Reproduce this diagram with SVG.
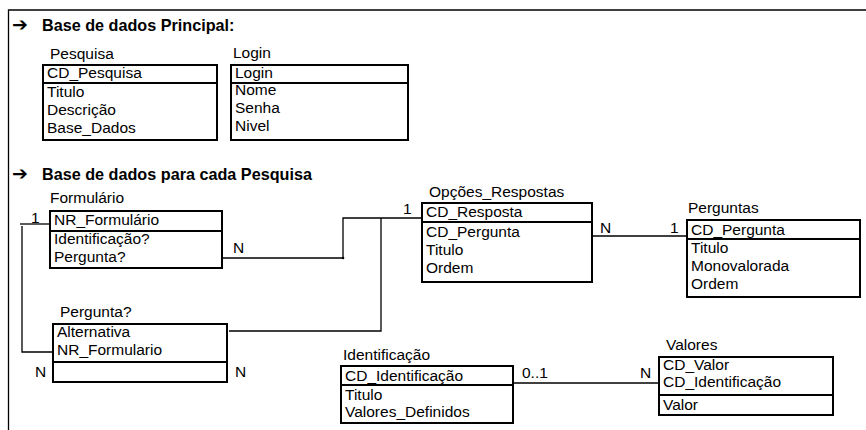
<svg xmlns="http://www.w3.org/2000/svg" width="866" height="430" viewBox="0 0 866 430">
<style>
text{font-family:"Liberation Sans",Arial,sans-serif;font-size:15.5px;fill:#000}
.h{font-weight:bold;font-size:16.2px}
.arr{font-family:"DejaVu Sans",sans-serif;font-size:19px;font-weight:bold}
.box{fill:#fff;stroke:#000;stroke-width:2}
.c{fill:none;stroke:#000;stroke-width:1.3}
</style>
<rect width="866" height="430" fill="#fff"/>
<path d="M8.5 430 V10 H866" fill="none" stroke="#000" stroke-width="1.3"/>
<text class="arr" x="12" y="31">➔</text>
<text class="h" x="42" y="31">Base de dados Principal:</text>
<text class="arr" x="12" y="180">➔</text>
<text class="h" x="42" y="180">Base de dados para cada Pesquisa</text>

<g id="pesquisa">
<text x="50" y="59">Pesquisa</text>
<rect class="box" x="43" y="65" width="174" height="18"/>
<rect class="box" x="43" y="83" width="174" height="57"/>
<text x="47" y="78">CD_Pesquisa</text>
<text x="47" y="97">Titulo</text>
<text x="47" y="115">Descrição</text>
<text x="47" y="133">Base_Dados</text>
</g>

<g id="login">
<text x="233" y="58">Login</text>
<rect class="box" x="231" y="65" width="177" height="18"/>
<rect class="box" x="231" y="83" width="177" height="57"/>
<text x="235" y="78">Login</text>
<text x="235" y="95">Nome</text>
<text x="235" y="113">Senha</text>
<text x="235" y="131">Nivel</text>
</g>

<g id="formulario">
<text x="50" y="203">Formulário</text>
<rect class="box" x="50" y="211" width="172" height="20"/>
<rect class="box" x="50" y="231" width="172" height="37"/>
<text x="54" y="225">NR_Formulário</text>
<text x="54" y="244">Identificação?</text>
<text x="54" y="262">Pergunta?</text>
</g>

<g id="opcoes_respostas">
<text x="429" y="197">Opções_Respostas</text>
<rect class="box" x="422" y="203" width="170" height="19"/>
<rect class="box" x="422" y="222" width="170" height="60"/>
<text x="426" y="217">CD_Resposta</text>
<text x="426" y="237">CD_Pergunta</text>
<text x="426" y="255">Titulo</text>
<text x="426" y="273">Ordem</text>
</g>

<g id="perguntas">
<text x="688" y="213">Perguntas</text>
<rect class="box" x="687" y="220" width="173" height="19"/>
<rect class="box" x="687" y="239" width="173" height="58"/>
<text x="691" y="235">CD_Pergunta</text>
<text x="691" y="253">Titulo</text>
<text x="691" y="271">Monovalorada</text>
<text x="691" y="289">Ordem</text>
</g>

<g id="pergunta_q">
<text x="60" y="317">Pergunta?</text>
<rect class="box" x="53" y="324" width="174" height="38"/>
<rect class="box" x="53" y="362" width="174" height="20"/>
<text x="57" y="337">Alternativa</text>
<text x="57" y="355">NR_Formulario</text>
</g>

<g id="identificacao">
<text x="343" y="360">Identificação</text>
<rect class="box" x="341" y="366" width="172" height="19"/>
<rect class="box" x="341" y="385" width="172" height="38"/>
<text x="345" y="381">CD_Identificação</text>
<text x="345" y="400">Titulo</text>
<text x="345" y="417">Valores_Definidos</text>
</g>

<g id="valores">
<text x="666" y="350">Valores</text>
<rect class="box" x="659" y="357" width="174" height="38"/>
<rect class="box" x="659" y="395" width="174" height="20"/>
<text x="663" y="370">CD_Valor</text>
<text x="663" y="387">CD_Identificação</text>
<text x="663" y="410">Valor</text>
</g>

<g id="connectors">
<path class="c" d="M20 224 H50"/>
<path class="c" d="M22 226 V352 H53"/>
<path class="c" d="M222 258 H343 V218 H422"/>
<circle cx="343" cy="258" r="1.3" fill="#000"/>
<path class="c" d="M229 331 H381 V218"/>
<path class="c" d="M592 236 H687"/>
<path class="c" d="M513 383 H659"/>
<text x="31" y="223">1</text>
<text x="233" y="253">N</text>
<text x="403" y="214">1</text>
<text x="600" y="233">N</text>
<text x="670" y="233">1</text>
<text x="35" y="377">N</text>
<text x="235" y="377">N</text>
<text x="522" y="378">0..1</text>
<text x="640" y="378">N</text>
</g>
</svg>
